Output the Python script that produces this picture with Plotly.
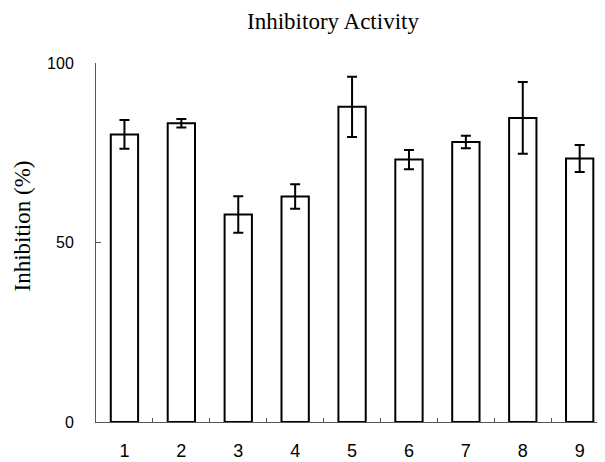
import plotly.graph_objects as go

categories = ["1", "2", "3", "4", "5", "6", "7", "8", "9"]
inhibition = [80.1, 83.2, 57.8, 62.8, 87.8, 73.1, 78.0, 84.7, 73.4]
errors = [4.0, 1.2, 5.1, 3.4, 8.4, 2.7, 1.75, 10.0, 3.75]
y_ticks = [0, 50, 100]

# page body has an 8px margin, so the figure is sized/offset to compensate
OFF = 8
W, H = 605 - OFF, 462 - OFF
L, R, T, B = 96 - OFF, 0, 63 - OFF, 40
pw = W - L - R
ph = H - T - B

fig = go.Figure()
fig.add_trace(go.Bar(
    x=categories,
    y=inhibition,
    width=0.48,
    marker=dict(color="white", line=dict(color="black", width=2)),
    error_y=dict(type="data", array=errors, visible=True,
                 color="black", thickness=2, width=5),
))

fig.update_layout(
    width=W, height=H,
    margin=dict(l=L, r=R, t=T, b=B, pad=0, autoexpand=False),
    paper_bgcolor="white", plot_bgcolor="white",
    showlegend=False,
    title=dict(text="Inhibitory Activity", x=(333 - OFF) / W, xanchor="center",
               y=1 - (21 - OFF) / H, yanchor="middle", yref="container",
               font=dict(family="Liberation Serif, Times New Roman, serif",
                         size=23, color="black")),
    xaxis=dict(type="category", range=[-0.5, 8.445], automargin=False,
               showline=True, linecolor="#555", linewidth=1,
               ticks="inside", ticklen=4, tickcolor="#555", tickson="boundaries",
               showgrid=False, zeroline=False,
               tickfont=dict(family="Liberation Sans, Arial, sans-serif", size=18, color="black"),
               ticklabelstandoff=12),
    yaxis=dict(range=[0, 100], tickvals=y_ticks, automargin=False,
               showline=True, linecolor="#555", linewidth=1,
               ticks="inside", ticklen=5, tickcolor="#555",
               showgrid=False, zeroline=False,
               tickfont=dict(family="Liberation Sans, Arial, sans-serif", size=16, color="black"),
               ticklabelstandoff=18),
    annotations=[dict(text="Inhibition (%)", textangle=-90,
                      xref="paper", yref="paper",
                      x=(22 - OFF - L) / pw, y=(H - B - (226.5 - OFF)) / ph,
                      xanchor="center", yanchor="middle", showarrow=False,
                      font=dict(family="Liberation Serif, Times New Roman, serif",
                                size=23, color="black"))],
)

fig.write_html("out.html")
